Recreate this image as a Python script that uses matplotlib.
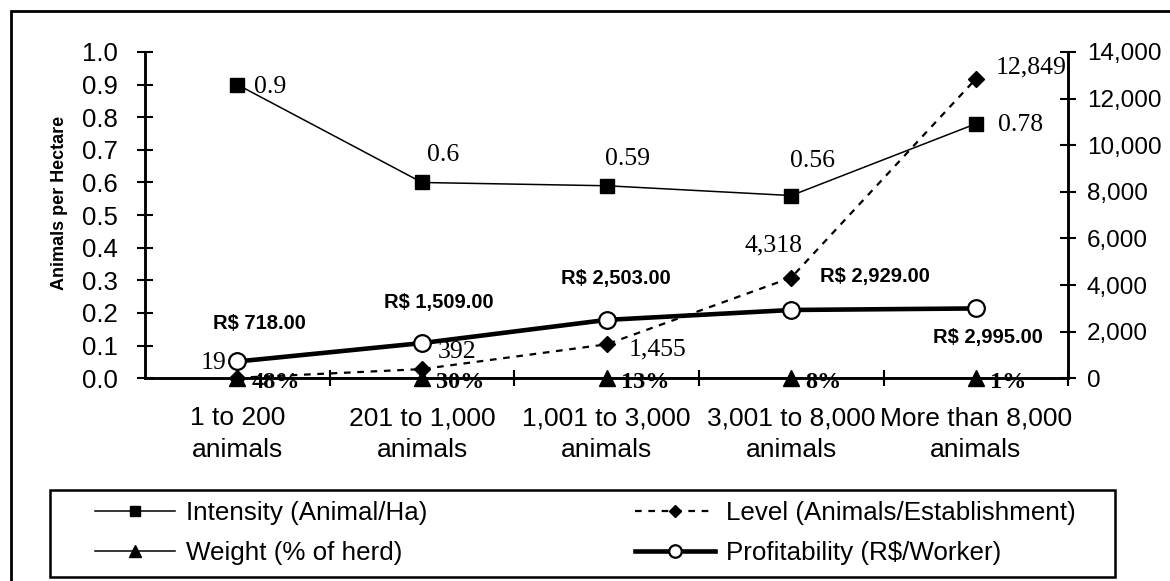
import matplotlib
matplotlib.use("Agg")
import matplotlib.pyplot as plt
from matplotlib.patches import Rectangle
from matplotlib.ticker import FuncFormatter, FixedLocator

plt.rcParams['font.family'] = 'Liberation Sans'

# herd size classes
categories = ["1 to 200\nanimals", "201 to 1,000\nanimals", "1,001 to 3,000\nanimals",
              "3,001 to 8,000\nanimals", "More than 8,000\nanimals"]
# animals per hectare (left axis)
intensity = [0.9, 0.6, 0.59, 0.56, 0.78]
# animals per establishment (right axis)
level = [19, 392, 1455, 4318, 12849]
# share of the herd, percent (right axis)
weight = [48, 30, 13, 8, 1]
# R$ per worker (right axis)
profit = [718, 1509, 2503, 2929, 2995]

x = list(range(len(categories)))
serif = 'Liberation Serif'

fig = plt.figure(figsize=(11.7, 5.81), dpi=100)
ax = fig.add_axes([0.124, 0.349, 0.789, 0.5615])
ax2 = ax.twinx()

# outer frame of the chart area
fig.patches.append(Rectangle((11 / 1170, -0.2), 1.2, 1.2 - 11 / 581,
                             transform=fig.transFigure, fill=False,
                             edgecolor='black', linewidth=2))

l1, = ax.plot(x, intensity, color='black', lw=1.1, marker='s', ms=9.5,
              label='Intensity (Animal/Ha)', clip_on=False, zorder=3)
l2, = ax2.plot(x, level, color='black', lw=1.6, ls=(0, (3, 3)), marker='D', ms=8.5,
               label='Level (Animals/Establishment)', clip_on=False, zorder=4)
l3, = ax2.plot(x, [w / 100 for w in weight], color='black', lw=1.1, marker='^', ms=12,
               label='Weight (% of herd)', clip_on=False, zorder=5)
l4, = ax2.plot(x, profit, color='black', lw=3.3, marker='o', ms=12, mfc='white',
               mew=1.6, label='Profitability (R$/Worker)', clip_on=False, zorder=3)

ax.set_xlim(-0.5, 4.5)
ax.set_ylim(0, 1.0)
ax2.set_ylim(0, 14000)

ax.set_yticks([i / 10 for i in range(11)])
ax.yaxis.set_major_formatter(FuncFormatter(lambda v, p: f"{v:.1f}"))
ax2.set_yticks(range(0, 14001, 2000))
ax2.yaxis.set_major_formatter(FuncFormatter(lambda v, p: f"{int(v):,}"))

# boundary ticks on the x axis, labels centred on each class
ax.xaxis.set_major_locator(FixedLocator([0.5, 1.5, 2.5, 3.5, 4.5]))
ax.xaxis.set_major_formatter(FuncFormatter(lambda v, p: ""))
ax.set_xticks(x, minor=True)
ax.set_xticklabels(categories, minor=True, fontsize=19, linespacing=1.42)
ax.tick_params(axis='x', which='minor', length=0, pad=20)
ax.tick_params(axis='x', which='major', direction='inout', length=11, width=1.5)

ax.tick_params(axis='y', direction='inout', length=11, width=1.5, labelsize=18.5, pad=14)
ax2.tick_params(axis='y', direction='inout', length=11, width=1.5, labelsize=17.5, pad=8)

for a in (ax, ax2):
    a.spines['top'].set_visible(False)
    for s in ('left', 'right', 'bottom'):
        a.spines[s].set_linewidth(1.8)

ax.set_ylabel('Animals per Hectare', fontsize=13, fontweight='bold')
ax.yaxis.set_label_coords(-0.084, 0.538)

# value labels
int_off = [(12, -2, 'left'), (15, 20, 'center'), (15, 19, 'center'), (15, 25, 'center'), (16, -1, 'left')]
for xi, v, (dx, dy, ha) in zip(x, intensity, int_off):
    ax.annotate(f"{v:g}", (xi, v), xytext=(dx, dy), textcoords='offset points',
                ha=ha, va='center', fontsize=18.5, family=serif)

lvl_off = [(-8, 11, 'right'), (11, 12, 'left'), (16, -4, 'left'), (8, 23, 'right'), (14, 8, 'left')]
for xi, v, (dx, dy, ha) in zip(x, level, lvl_off):
    ax2.annotate(f"{v:,}", (xi, v), xytext=(dx, dy), textcoords='offset points',
                 ha=ha, va='center', fontsize=18.5, family=serif)

pro_off = [(16, 27), (12, 29), (7, 30), (60, 24), (9, -21)]
for xi, v, (dx, dy) in zip(x, profit, pro_off):
    ax2.annotate(f"R$ {v:,.2f}", (xi, v), xytext=(dx, dy), textcoords='offset points',
                 ha='center', va='center', fontsize=14.5, fontweight='bold')

for xi, v in zip(x, weight):
    ax2.annotate(f"{v}%", (xi, v / 100), xytext=(10, -3), textcoords='offset points',
                 ha='left', va='center', fontsize=17.5, family=serif, fontweight='bold')

# legend in its own box below the plot (two rows, filled column by column)
fig.patches.append(Rectangle((50 / 1170, 1 - 577 / 581), 1065 / 1170, 87 / 581,
                             transform=fig.transFigure, fill=False,
                             edgecolor='black', linewidth=1.8))
handles = [l1, l3, l2, l4]
fig.legend(handles, [h.get_label() for h in handles],
           loc='center', bbox_to_anchor=(585 / 1170, 1 - 533 / 581), ncol=2,
           frameon=False, fontsize=18.7, handlelength=3.1, handletextpad=0.4,
           columnspacing=8.0, labelspacing=0.62, markerscale=0.75)

fig.savefig("out.png", dpi=100)
